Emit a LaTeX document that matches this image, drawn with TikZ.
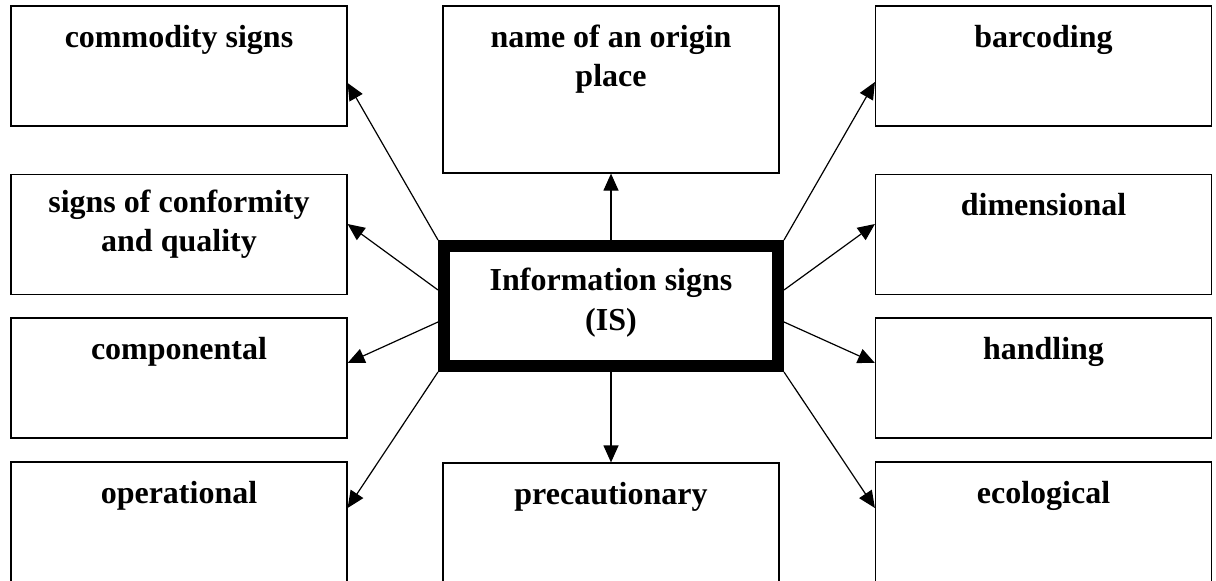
\documentclass[tikz,border=0pt]{standalone}
\usepackage{fontspec}
\setmainfont{Liberation Serif}
\usetikzlibrary{arrows.meta}

\begin{document}
\begin{tikzpicture}[x=0.5pt,y=-0.5pt,>={Triangle[length=8.5pt,width=7.5pt]},
  sign/.style={draw,line width=0.6pt,inner sep=0pt,minimum width=168pt,minimum height=60pt,
    text height=20.5pt,text depth=39.5pt,align=center,
    font=\fontsize{16}{19.5}\selectfont\bfseries},
  link/.style={->,line width=0.6pt}]
\useasboundingbox (0,0) rectangle (1216,580);
\clip (0,0) rectangle (1216,580);
% left column
\node[sign] (comm) at (179,66) {commodity signs};
\node[sign,text height=38.5pt,text depth=21.5pt] (conf) at (179,234.5) {signs of conformity\\and quality};
\node[sign] (comp) at (179,378) {componental};
\node[sign] (oper) at (179,522) {operational};
% middle column
\node[sign,minimum height=83.5pt,text height=40pt,text depth=43.5pt] (orig) at (611,89.5) {name of an origin\\place};
\node[sign,line width=6pt,minimum width=167pt,text height=42pt,text depth=18pt,
  font=\fontsize{16}{20}\selectfont\bfseries] (is) at (611,306) {Information signs\\(IS)};
\node[sign] (prec) at (611,523) {precautionary};
% right column
\node[sign] (barc) at (1043.5,66) {barcoding};
\node[sign] (dim) at (1043.5,234.5) {dimensional};
\node[sign] (hand) at (1043.5,378) {handling};
\node[sign] (eco) at (1043.5,522) {ecological};
% arrows
\draw[link] (is.north) -- (orig.south);
\draw[link] (is.south) -- (prec.north);
\draw[link] (is.north west) -- ([yshift=-8.5pt]comm.east);
\draw[link] ([yshift=8pt]is.west) -- ([yshift=5.25pt]conf.east);
\draw[link] ([yshift=-8pt]is.west) -- ([yshift=7.5pt]comp.east);
\draw[link] (is.south west) -- ([yshift=7pt]oper.east);
\draw[link] (is.north east) -- ([yshift=-8pt]barc.west);
\draw[link] ([yshift=8pt]is.east) -- ([yshift=5.25pt]dim.west);
\draw[link] ([yshift=-8pt]is.east) -- ([yshift=7.5pt]hand.west);
\draw[link] (is.south east) -- ([yshift=7pt]eco.west);
\end{tikzpicture}
\end{document}
